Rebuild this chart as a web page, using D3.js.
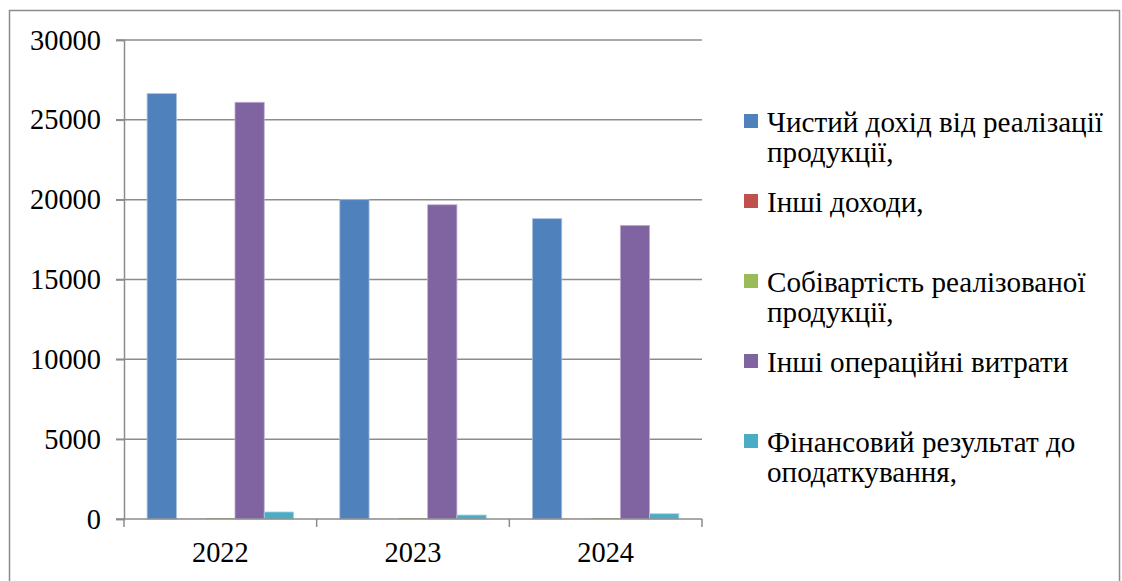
<!DOCTYPE html>
<html>
<head>
<meta charset="utf-8">
<script src="https://cdn.jsdelivr.net/npm/d3@7"></script>
<style>
  html, body { margin: 0; padding: 0; background: #fff; }
  svg { display: block; }
  text { font-family: "Liberation Serif", Tinos, "Times New Roman", "Noto Serif", "DejaVu Serif", serif; fill: #000; }
</style>
</head>
<body>
<svg id="chart" width="1122" height="581"></svg>
<script>
// Years on the category axis
const years = ["2022", "2023", "2024"];

// Series names (legend text, wrapped as shown)
const seriesNames = [
  "Чистий дохід від реалізації продукції,",
  "Інші доходи,",
  "Собівартість реалізованої продукції,",
  "Інші операційні витрати",
  "Фінансовий результат до оподаткування,"
];
const legendLines = [
  ["Чистий дохід від реалізації", "продукції,"],
  ["Інші доходи,"],
  ["Собівартість реалізованої", "продукції,"],
  ["Інші операційні витрати"],
  ["Фінансовий результат до", "оподаткування,"]
];

// Values per series, one per year
const netIncome       = [26640, 20000, 18810];
const otherIncome     = [12, 9, 14];
const costOfSales     = [60, 55, 58];
const otherExpenses   = [26100, 19680, 18390];
const resultBeforeTax = [440, 250, 330];

const seriesValues = [netIncome, otherIncome, costOfSales, otherExpenses, resultBeforeTax];
const colors = ["#4F81BD", "#C0504D", "#9BBB59", "#8064A2", "#4BACC6"];
const strokes = ["#a7bfde", "#dda8a6", "#cddcac", "#bfb1d0", "#a5d5e2"];

// Y axis ticks
const yTicks = [0, 5000, 10000, 15000, 20000, 25000, 30000];

const svg = d3.select("#chart");

// Pick a font size that gives a text run the wanted width in whichever serif face is available
function fitSize(sample, width) {
  const t = svg.append("text").attr("font-size", 100).text(sample);
  const w = t.node().getComputedTextLength();
  t.remove();
  return 100 * width / w;
}
const axisFont = fitSize("30000", 71);
const legendFont = fitSize("Чистий дохід від реалізації", 336);

// Outer frame of the chart object
svg.append("path")
  .attr("d", "M9.5,581 V10.5 H1119.5 V581")
  .attr("fill", "none").attr("stroke", "#8c8c8c").attr("stroke-width", 1.5);

const plot = { left: 124, right: 702, top: 40, bottom: 519 };

const x = d3.scaleBand().domain(years).range([plot.left, plot.right]).paddingInner(0).paddingOuter(0);
const xs = d3.scaleBand().domain(d3.range(seriesNames.length)).range([0, x.bandwidth()]).paddingInner(0).paddingOuter(0.79);
const y = d3.scaleLinear().domain([0, 30000]).range([plot.bottom, plot.top]);

// Horizontal gridlines
svg.append("g")
  .selectAll("line")
  .data(yTicks.filter(d => d > 0))
  .join("line")
  .attr("x1", plot.left - 8)
  .attr("x2", plot.right)
  .attr("y1", d => y(d))
  .attr("y2", d => y(d))
  .attr("stroke", "#8c8c8c")
  .attr("stroke-width", 1.5);

// Bars
const rows = [];
seriesValues.forEach((vals, si) => {
  vals.forEach((v, yi) => rows.push({ si, year: years[yi], v }));
});
svg.append("g")
  .selectAll("rect")
  .data(rows)
  .join("rect")
  .attr("x", d => x(d.year) + xs(d.si))
  .attr("width", xs.bandwidth())
  .attr("y", d => y(d.v))
  .attr("height", d => y(0) - y(d.v))
  .attr("fill", d => colors[d.si])
  .attr("stroke", d => d.v > 200 ? strokes[d.si] : "none")
  .attr("stroke-width", 0.8);

// Y axis
const yAxis = d3.axisLeft(y).tickValues(yTicks).tickSize(8).tickFormat(d3.format("d"));
const gy = svg.append("g").attr("transform", `translate(${plot.left},0)`).call(yAxis);
gy.attr("font-family", null).attr("font-size", null);
gy.select(".domain").attr("stroke", "#8c8c8c").attr("stroke-width", 1.5);
gy.selectAll(".tick line").attr("stroke", "#8c8c8c").attr("stroke-width", 1.5);
gy.selectAll(".tick text")
  .attr("x", -23)
  .attr("dy", null)
  .attr("y", 9)
  .attr("font-size", axisFont)
  .attr("fill", "#000");

// X axis with ticks on category boundaries
const gx = svg.append("g").attr("transform", `translate(0,${plot.bottom})`);
gx.append("line")
  .attr("x1", plot.left - 8).attr("x2", plot.right)
  .attr("stroke", "#8c8c8c").attr("stroke-width", 1.5);
const boundaries = years.map(yr => x(yr)).concat([x(years[years.length - 1]) + x.bandwidth()]);
gx.selectAll("line.b")
  .data(boundaries)
  .join("line")
  .attr("class", "b")
  .attr("x1", d => d).attr("x2", d => d)
  .attr("y1", 0).attr("y2", 8)
  .attr("stroke", "#8c8c8c").attr("stroke-width", 1.5);
gx.selectAll("text")
  .data(years)
  .join("text")
  .attr("x", d => x(d) + x.bandwidth() / 2)
  .attr("y", 43)
  .attr("text-anchor", "middle")
  .attr("font-size", axisFont)
  .text(d => d);

// Legend
const legend = svg.append("g");
const legendTop = 132, legendStep = 80, lineGap = 30;
legendLines.forEach((lines, i) => {
  const base = legendTop + i * legendStep;
  legend.append("rect")
    .attr("x", 744).attr("y", base - 18)
    .attr("width", 14).attr("height", 14)
    .attr("fill", colors[i]);
  const t = legend.append("text")
    .attr("x", 767).attr("y", base)
    .attr("font-size", legendFont);
  lines.forEach((ln, k) => {
    t.append("tspan").attr("x", 767).attr("y", base + k * lineGap).text(ln);
  });
});
</script>
</body>
</html>
